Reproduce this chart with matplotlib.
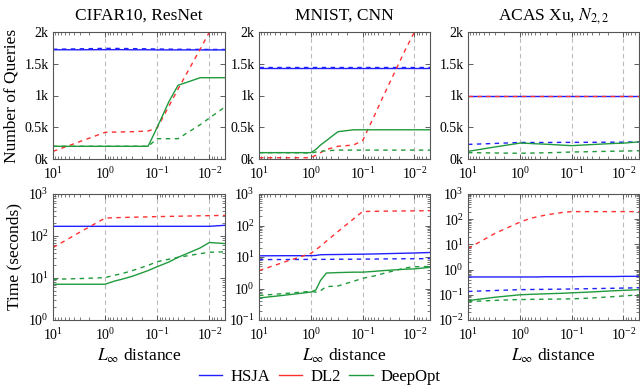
"""Queries and time vs L-inf distance for HSJA, DL2, DeepOpt (3 benchmarks)."""
import matplotlib
matplotlib.use("Agg")
import matplotlib.pyplot as plt
from matplotlib.lines import Line2D
from matplotlib.ticker import LogLocator, FixedLocator, NullFormatter

plt.rcParams["font.family"] = ["Liberation Serif", "DejaVu Serif"]
plt.rcParams["mathtext.fontset"] = "stix"

# shared L-inf distance grid
dist = [10, 3, 1, 0.8, 0.65, 0.5, 0.3, 0.15, 0.1, 0.06, 0.04, 0.015, 0.01, 0.005]

titles = ["CIFAR10, ResNet", "MNIST, CNN", r"ACAS Xu, $N_{2,2}$"]
query_ticks = [0, 500, 1000, 1500, 2000]
query_ticklabels = ["0k", "0.5k", "1k", "1.5k", "2k"]
time_ylims = [(1, 1e3), (0.1, 1e3), (0.01, 1e3)]

# --- number of queries ---
cifar_q_hsja = [1720, 1720, 1722, 1722, 1722, 1722, 1720, 1720, 1718, 1718, 1718, 1718, 1718, 1718]
cifar_q_hsja_d = [1728, 1735, 1742, 1742, 1741, 1740, 1738, 1735, 1732, 1730, 1728, 1726, 1725, 1725]
cifar_q_dl2_d = [120, 276, 420, 422, 424, 426, 430, 440, 490, 830, 1100, 1730, 2000, 2450]
cifar_q_deep = [200, 200, 200, 200, 200, 200, 200, 200, 500, 900, 1160, 1280, 1280, 1280]
cifar_q_deep_d = [200, 200, 200, 200, 200, 200, 200, 200, 320, 320, 320, 540, 645, 820]

mnist_q_hsja = [1440] * 14
mnist_q_hsja_d = [1450] * 14
mnist_q_dl2_d = [20, 20, 20, 60, 100, 150, 200, 220, 290, 674, 988, 1720, 2000, 2000]
mnist_q_deep = [100, 100, 100, 150, 220, 290, 430, 460, 460, 460, 460, 460, 460, 460]
mnist_q_deep_d = [100, 100, 95, 110, 120, 130, 140, 140, 140, 140, 140, 140, 140, 140]

acas_q_hsja = [990] * 14
acas_q_hsja_d = [230, 245, 260, 260, 260, 260, 260, 262, 262, 263, 263, 265, 265, 270]
acas_q_dl2_d = [1000] * 14
acas_q_deep = [120, 190, 250, 248, 245, 240, 232, 218, 210, 220, 228, 245, 250, 270]
acas_q_deep_d = [100, 95, 90, 92, 93, 95, 98, 105, 110, 113, 116, 123, 125, 130]

# --- time (seconds) ---
cifar_t_hsja = [170] * 13 + [180]
cifar_t_hsja_d = None
cifar_t_dl2_d = [53, 125, 267, 270, 272, 275, 280, 285, 290, 293, 296, 303, 305, 310]
cifar_t_deep = [7.1, 7.1, 7.1, 7.8, 8.5, 9.2, 11, 15, 18.6, 24, 31, 52, 70, 66]
cifar_t_deep_d = [9.3, 9.7, 10.2, 11, 11.7, 12.5, 15, 20, 24.5, 28, 31, 38, 41, 42]

mnist_t_hsja = [10.9, 11, 11, 11.2, 11.8, 11.9, 12, 12.2, 12.3, 12.5, 12.7, 13.2, 13.4, 13.9]
mnist_t_hsja_d = [8.3, 8.3, 8.4, 8.4, 8.4, 8.4, 8.5, 8.5, 8.6, 8.6, 8.7, 8.8, 8.8, 8.9]
mnist_t_dl2_d = [3.7, 7.2, 13, 17, 22, 32, 64, 162, 278, 282, 285, 290, 292, 295]
mnist_t_deep = [0.5, 0.62, 0.77, 0.9, 1.8, 3.1, 3.2, 3.3, 3.3, 3.5, 3.7, 4.1, 4.2, 4.7]
mnist_t_deep_d = [0.6, 0.7, 0.81, 0.77, 0.85, 1.15, 1.2, 1.7, 2.1, 2.5, 3.0, 4.5, 4.9, 5.0]

acas_t_hsja = [0.51, 0.51, 0.51, 0.51, 0.51, 0.51, 0.52, 0.52, 0.52, 0.53, 0.53, 0.53, 0.54, 0.54]
acas_t_hsja_d = [0.136, 0.148, 0.16, 0.161, 0.162, 0.163, 0.165, 0.168, 0.17, 0.173, 0.176, 0.182, 0.185, 0.19]
acas_t_dl2_d = [6.9, 27.5, 76, 90, 105, 120, 150, 185, 200, 200, 200, 200, 200, 200]
acas_t_deep = [0.059, 0.08, 0.1, 0.102, 0.104, 0.106, 0.11, 0.115, 0.12, 0.125, 0.13, 0.145, 0.15, 0.16]
acas_t_deep_d = [0.054, 0.06, 0.065, 0.065, 0.066, 0.066, 0.067, 0.068, 0.069, 0.072, 0.075, 0.085, 0.09, 0.1]

queries = [
    (cifar_q_hsja, cifar_q_hsja_d, cifar_q_dl2_d, cifar_q_deep, cifar_q_deep_d),
    (mnist_q_hsja, mnist_q_hsja_d, mnist_q_dl2_d, mnist_q_deep, mnist_q_deep_d),
    (acas_q_hsja, acas_q_hsja_d, acas_q_dl2_d, acas_q_deep, acas_q_deep_d),
]
times = [
    (cifar_t_hsja, cifar_t_hsja_d, cifar_t_dl2_d, cifar_t_deep, cifar_t_deep_d),
    (mnist_t_hsja, mnist_t_hsja_d, mnist_t_dl2_d, mnist_t_deep, mnist_t_deep_d),
    (acas_t_hsja, acas_t_hsja_d, acas_t_dl2_d, acas_t_deep, acas_t_deep_d),
]

BLUE, RED, GREEN = "#1f1fff", "#ff3030", "#1f9a3c"
DASH = (0, (3.2, 3.2))
W, H = 640, 388
cols = [(53, 225), (259, 430), (468, 639)]
rows = [(32, 159), (194, 320)]


def style(ax):
    ax.set_xscale("log")
    ax.set_xlim(10, 10 ** -2.3)
    ax.xaxis.set_major_locator(FixedLocator([10, 1, 0.1, 0.01]))
    ax.xaxis.set_minor_locator(LogLocator(base=10, subs=range(2, 10), numticks=20))
    ax.xaxis.set_minor_formatter(NullFormatter())
    ax.tick_params(which="both", direction="in", top=True, right=True,
                   labelsize=10, color="#444444", pad=3)
    ax.tick_params(axis="x", pad=5)
    ax.tick_params(which="major", length=3.5, width=0.6)
    ax.tick_params(which="minor", length=2, width=0.5)
    for s in ax.spines.values():
        s.set_color("#555555"); s.set_linewidth(0.8)
    for xv in [1, 0.1, 0.01]:
        ax.axvline(xv, color="#bbbbbb", lw=0.8, ls=(0, (4, 3)), zorder=0)


def draw(ax, series):
    hsja, hsja_d, dl2_d, deep, deep_d = series
    ax.plot(dist, hsja, color=BLUE, lw=1.0)
    if hsja_d is not None:
        ax.plot(dist, hsja_d, color=BLUE, lw=1.0, ls=DASH)
    ax.plot(dist, dl2_d, color=RED, lw=1.0, ls=DASH)
    ax.plot(dist, deep, color=GREEN, lw=1.0)
    ax.plot(dist, deep_d, color=GREEN, lw=1.0, ls=DASH)


fig = plt.figure(figsize=(W / 100, H / 100), dpi=100)
for j, (x0, x1) in enumerate(cols):
    # top row: number of queries
    y0, y1 = rows[0]
    ax = fig.add_axes([x0 / W, 1 - y1 / H, (x1 - x0) / W, (y1 - y0) / H])
    style(ax)
    draw(ax, queries[j])
    ax.set_ylim(0, 2000)
    ax.set_yticks(query_ticks)
    ax.set_yticklabels(query_ticklabels)
    ax.set_title(titles[j], fontsize=12.5, pad=9)
    if j == 0:
        ax.set_ylabel("Number of Queries", fontsize=12.5, labelpad=4)

    # bottom row: time
    y0, y1 = rows[1]
    ax = fig.add_axes([x0 / W, 1 - y1 / H, (x1 - x0) / W, (y1 - y0) / H])
    style(ax)
    draw(ax, times[j])
    ax.set_yscale("log")
    ax.set_ylim(*time_ylims[j])
    ax.yaxis.set_major_locator(LogLocator(base=10, numticks=10))
    ax.yaxis.set_minor_locator(LogLocator(base=10, subs=range(2, 10), numticks=20))
    ax.yaxis.set_minor_formatter(NullFormatter())
    ax.set_xlabel(r"$L_\infty$ distance", fontsize=12.5, labelpad=3)
    if j == 0:
        ax.set_ylabel("Time (seconds)", fontsize=12.5, labelpad=4)

handles = [Line2D([], [], color=BLUE, lw=1.0), Line2D([], [], color=RED, lw=1.0),
           Line2D([], [], color=GREEN, lw=1.0)]
fig.legend(handles, ["HSJA", "DL2", "DeepOpt"], loc="center", bbox_to_anchor=(0.5, 1 - 377 / H),
           ncol=3, frameon=False, fontsize=12, handlelength=1.4, handletextpad=0.5,
           columnspacing=0.5, borderpad=0)
fig.savefig("out.png", dpi=100)
